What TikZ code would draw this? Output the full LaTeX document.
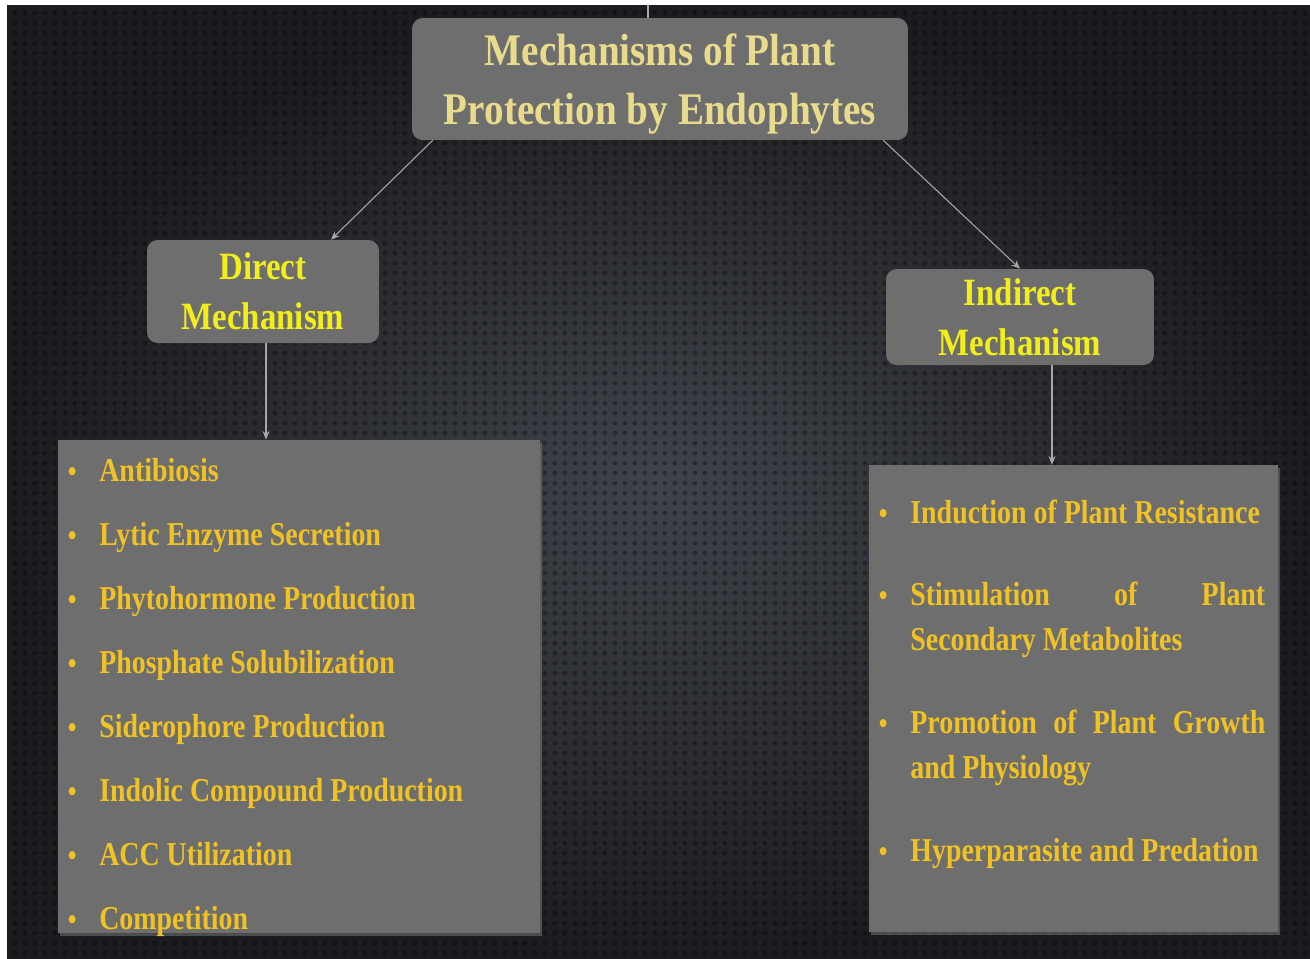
\documentclass[tikz,border=0pt]{standalone}
\usepackage{fontspec}
\newfontfamily\peFont[FakeStretch=0.85]{Liberation Serif}
\newfontfamily\peTitleFont[FakeStretch=0.867]{Liberation Serif}
\newfontfamily\peItemFont[FakeStretch=0.836]{Liberation Serif}
\usetikzlibrary{positioning, shadows, calc, arrows.meta, patterns.meta}
\definecolor{peBox}{HTML}{6E6E6E}
\definecolor{peTitle}{HTML}{E9DB8C}
\definecolor{peHead}{HTML}{F2EE1A}
\definecolor{peItemC}{HTML}{F0C224}
\definecolor{peLine}{HTML}{A8A8A8}
\definecolor{peBgIn}{HTML}{40434A}
\definecolor{peBgOut}{HTML}{1B1C1F}
\tikzdeclarepattern{
    name=peMesh,
    type=uncolored,
    bottom left={(0pt,0pt)},
    top right={(5.6pt,5.6pt)},
    tile size={(5.6pt,5.6pt)},
    code={\pgfpathcircle{\pgfpoint{2.8pt}{2.8pt}}{1.4pt}\pgfusepath{fill}}
}
\tikzset{
    peBoxBase/.style={
        rectangle,
        fill=peBox,
        draw=none,
        align=center,
        inner sep=4pt
    },
    % Variants
    titlebox/.style={peBoxBase, rounded corners=6pt, text=peTitle, text depth=0pt,
        font=\peTitleFont\bfseries\fontsize{25.7}{34}\selectfont},
    headbox/.style={peBoxBase, rounded corners=6pt, text=peHead,
        font=\peFont\bfseries\fontsize{22}{28.3}\selectfont},
    listbox/.style={peBoxBase, drop shadow={opacity=0.5, shadow xshift=1pt, shadow yshift=-1.5pt}},
    peItem/.style={anchor=base west, inner sep=0pt, text=peItemC,
        font=\peItemFont\bfseries\fontsize{19}{26}\selectfont},
    % Arrows
    peLineBase/.style={draw=peLine, line width=0.6pt},
    peArrowBase/.style={peLineBase, -{Stealth[length=5pt, width=4pt]}}
}
\newcommand{\peBullet}{\makebox[0.48cm]{\fontsize{17}{17}\selectfont\textbullet}\hspace{0.3cm}}

\begin{document}
\begin{tikzpicture}[x=0.02cm, y=-0.02cm]
    \useasboundingbox (0,0) rectangle (1310,958);
    \fill[white] (0,0) rectangle (1310,958);
    \shade[inner color=peBgIn, outer color=peBgOut] (7,5) rectangle (1310,958);
    \fill[pattern=peMesh, pattern color=black, fill opacity=0.3] (7,5) rectangle (1310,958);

    \node[titlebox, minimum width=9.92cm, minimum height=2.44cm] (title) at (660,79) {Mechanisms of Plant\\Protection by Endophytes};
    \node[headbox, minimum width=4.64cm, minimum height=2.06cm] (direct) at (263,291.5) {Direct\\Mechanism};
    \node[headbox, minimum width=5.36cm, minimum height=1.92cm] (indirect) at (1020,317) {Indirect\\Mechanism};
    \node[listbox, minimum width=9.64cm, minimum height=9.86cm] (dlist) at (299,686.5) {};
    \node[listbox, minimum width=8.18cm, minimum height=9.34cm] (ilist) at (1073.5,698.5) {};

    % direct mechanism
    \foreach \txt [count=\i] in {Antibiosis, Lytic Enzyme Secretion, Phytohormone Production,
        Phosphate Solubilization, Siderophore Production, Indolic Compound Production,
        ACC Utilization, Competition}
        \node[peItem] (d\i) at (60,417+64*\i) {\peBullet\txt};

    % indirect mechanism
    \node[peItem] (i1) at (871,523) {\peBullet Induction of Plant Resistance};
    \node[peItem] (i2) at (871,605) {\peBullet\parbox[t]{7.1cm}{\makebox[7.1cm][s]{Stimulation of Plant}\\Secondary Metabolites}};
    \node[peItem] (i3) at (871,733) {\peBullet\parbox[t]{7.1cm}{\makebox[7.1cm][s]{Promotion of Plant Growth}\\and Physiology}};
    \node[peItem] (i4) at (871,861) {\peBullet Hyperparasite and Predation};

    \coordinate (stub) at (648,5);
    \draw[peLineBase] (stub) -- (stub |- title.north);
    \draw[peArrowBase] ([xshift=0.42cm]title.south west) -- ([xshift=1.36cm]direct.north);
    \draw[peArrowBase] ([xshift=-0.5cm]title.south east) -- (indirect.north);
    \draw[peArrowBase] ([xshift=0.06cm]direct.south) -- ([xshift=0.06cm]direct.south |- dlist.north);
    \draw[peArrowBase] ([xshift=0.64cm]indirect.south) -- ([xshift=0.64cm]indirect.south |- ilist.north);
\end{tikzpicture}
\end{document}
